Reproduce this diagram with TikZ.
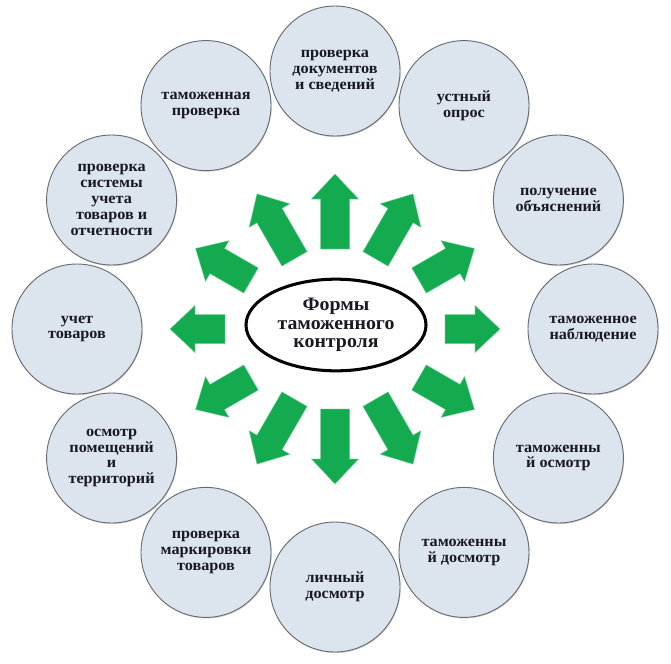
\documentclass[tikz,border=0pt]{standalone}
\usepackage{fontspec}
\setmainfont{Liberation Serif}[FakeStretch=1.04]
\usetikzlibrary{shapes.geometric,shadows}
\definecolor{agreen}{RGB}{20,170,80}
\definecolor{cfill}{RGB}{220,228,238}
\definecolor{cdraw}{RGB}{105,108,115}
\definecolor{ctext}{RGB}{25,25,35}
\begin{document}
\begin{tikzpicture}[x=0.03cm,y=-0.03cm,
  form/.style={circle, draw=cdraw, line width=0.8pt, fill=cfill, minimum size=3.9cm, inner sep=0pt, align=center,
    font=\bfseries\fontsize{13.3}{13.5}\selectfont, text=ctext,
    drop shadow={opacity=0.35, shadow xshift=0.6pt, shadow yshift=-0.9pt}},
  titlebox/.style={ellipse, draw=black, line width=2.6pt, fill=white, minimum width=5.4cm, minimum height=2.75cm,
    inner sep=0pt, align=center, font=\bfseries\fontsize{16.3}{15.8}\selectfont, text=ctext},
  blockarrow/.style={fill=agreen, draw=agreen!60, line width=0.6pt, draw opacity=0.6}
]
\useasboundingbox (0,0) rectangle (671,663);
\coordinate (C) at (335,329);

% arrows
\foreach \ang/\ra/\rb in {0/110/165, 30/97/161, 60/81/156, 90/80/155, 120/81/156, 150/97/161,
                          180/110/165, 210/97/161, 240/81/156, 270/80/155, 300/81/156, 330/97/161}{
  \begin{scope}[shift={(C)}, rotate=\ang]
    \path[blockarrow] (\ra,-14.5) -- (\rb-25,-14.5) -- (\rb-25,-23.5) -- (\rb,0)
      -- (\rb-25,23.5) -- (\rb-25,14.5) -- (\ra,14.5) -- cycle;
  \end{scope}
}

% center
\node[titlebox] (title) at (336,325) {Формы\\таможенного\\контроля};

% circles
\node[form] (f1)  at (335,71)    {проверка\\документов\\и сведений};
\node[form] (f2)  at (464,105.6) {устный\\опрос};
\node[form] (f3)  at (558.4,200) {получение\\объяснений};
\node[form] (f4)  at (593,329)   {таможенное\\наблюдение};
\node[form] (f5)  at (558.4,458) {таможенны\\й осмотр};
\node[form] (f6)  at (464,552.4) {таможенны\\й досмотр};
\node[form] (f7)  at (335,587)   {личный\\досмотр};
\node[form] (f8)  at (206,552.4) {проверка\\маркировки\\товаров};
\node[form] (f9)  at (111.6,458) {осмотр\\помещений\\и\\территорий};
\node[form] (f10) at (77,329)    {учет\\товаров};
\node[form] (f11) at (111.6,200) {проверка\\системы\\учета\\товаров и\\отчетности};
\node[form] (f12) at (206,105.6) {таможенная\\проверка};
\end{tikzpicture}
\end{document}
